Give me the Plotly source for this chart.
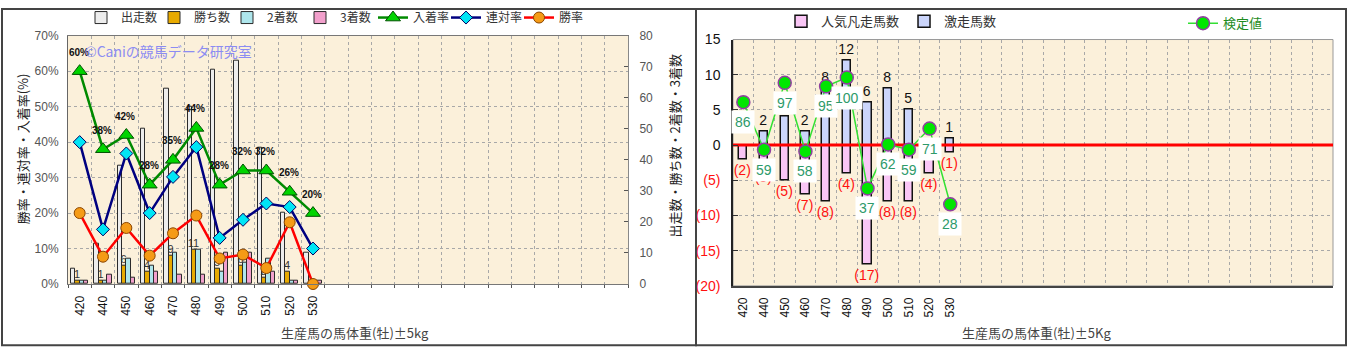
import plotly.graph_objects as go

# ---------------- data ----------------
weights = ["420", "440", "450", "460", "470", "480", "490", "500", "510", "520", "530"]
left_slots = 24     # category slots on the left chart (incl. empty ones)
right_slots = 29    # category slots on the right chart

runs = [5, 13, 38, 50, 63, 57, 69, 72, 44, 23, 10]          # 出走数
wins = [1, 1, 6, 4, 9, 11, 5, 6, 2, 4, 0]                   # 勝ち数
seconds = [1, 1, 8, 6, 10, 11, 4, 7, 8, 1, 1]               # 2着数
thirds = [1, 3, 2, 4, 3, 3, 10, 10, 4, 1, 1]                # 3着数
place_rate = [60, 38, 42, 28, 35, 44, 28, 32, 32, 26, 20]   # 入着率 %
quinella_rate = [40, 15.4, 36.8, 20, 30.2, 38.6, 13.0, 18.1, 22.7, 21.7, 10]  # 連対率 %
win_rate = [20, 7.7, 15.8, 8, 14.3, 19.3, 7.2, 8.3, 4.5, 17.4, 0]             # 勝率 %

surge = [0, 2, 4, 2, 8, 12, 6, 8, 5, 0, 1]                  # 激走馬数
flop = [-2, -3, -5, -7, -8, -4, -17, -8, -8, -4, -1]        # 人気凡走馬数
test_value = [86, 59, 97, 58, 95, 100, 37, 62, 59, 71, 28]  # 検定値

right_ticks = [15, 10, 5, 0, -5, -10, -15, -20]

# ---------------- layout helpers ----------------
W, H = 1348, 356
def px(x):
    return x / W
def py(y):
    return 1 - y / H

idx = list(range(len(weights)))
FONT = "Liberation Sans, Noto Sans CJK JP, sans-serif"
JP = "Noto Sans CJK JP, Liberation Sans, sans-serif"
GRID = "#A8A8A8"
BG = "#FBF0DA"

fig = go.Figure()

# ---- left chart bars (count axis y, drawn first) ----
bw = 0.185
bar_specs = [
    ("出走数", runs, "#EDEDED", -2 * bw),
    ("勝ち数", wins, "#E8AA00", -bw),
    ("2着数", seconds, "#AEE6EC", 0),
    ("3着数", thirds, "#F2A0CC", bw),
]
for name, vals, col, off in bar_specs:
    kw = {}
    if name == "勝ち数":
        kw = dict(text=[str(v) if v > 0 else "" for v in vals], textposition="outside",
                  textfont=dict(size=11, color="#333", family=FONT), constraintext="none",
                  cliponaxis=False, textangle=0)
    fig.add_trace(go.Bar(x=idx, y=vals, name=name, width=bw, offset=off,
                         marker=dict(color=col, line=dict(color="#2a2a2a", width=1)),
                         xaxis="x", yaxis="y", legend="legend", **kw))

# ---- left chart lines (pct axis y2) ----
fig.add_trace(go.Scatter(x=idx, y=place_rate, name="入着率", mode="lines+markers",
                         line=dict(color="#008A00", width=2.5),
                         marker=dict(symbol="triangle-up", size=13, color="#00D400",
                                     line=dict(color="#005000", width=1)),
                         xaxis="x", yaxis="y2", legend="legend", cliponaxis=False))
fig.add_trace(go.Scatter(x=idx, y=quinella_rate, name="連対率", mode="lines+markers",
                         line=dict(color="#000080", width=2.5),
                         marker=dict(symbol="diamond", size=10, color="#00E5F5",
                                     line=dict(color="#000060", width=1)),
                         xaxis="x", yaxis="y2", legend="legend", cliponaxis=False))
fig.add_trace(go.Scatter(x=idx, y=win_rate, name="勝率", mode="lines+markers",
                         line=dict(color="#FF0000", width=2.5),
                         marker=dict(symbol="circle", size=11, color="#F59B16",
                                     line=dict(color="#8B4500", width=1)),
                         xaxis="x", yaxis="y2", legend="legend", cliponaxis=False))

# ---- right chart bars (y3) ----
fig.add_trace(go.Bar(x=idx, y=flop, name="人気凡走馬数", width=0.4, offset=-0.2,
                     marker=dict(color="#F9C6F5", line=dict(color="#111", width=1.5)),
                     text=[f"({-v})" for v in flop], textposition="outside",
                     textfont=dict(size=14, color="#FF1010", family=FONT), constraintext="none",
                     cliponaxis=False, textangle=0,
                     xaxis="x2", yaxis="y3", legend="legend2"))
fig.add_trace(go.Bar(x=idx, y=surge, name="激走馬数", width=0.4, offset=-0.2,
                     marker=dict(color="#CBD5FB", line=dict(color="#111", width=1.5)),
                     text=[str(v) if v > 0 else "" for v in surge], textposition="outside",
                     textfont=dict(size=14, color="#111", family=FONT), constraintext="none",
                     cliponaxis=False, textangle=0,
                     xaxis="x2", yaxis="y3", legend="legend2"))
# zero reference line (above bars, below the test-value line)
fig.add_trace(go.Scatter(x=[-0.5, right_slots - 0.5], y=[0, 0], mode="lines",
                         line=dict(color="#FF0000", width=3), showlegend=False,
                         hoverinfo="skip", xaxis="x2", yaxis="y3"))
# ---- test value line (hidden axis y4) ----
fig.add_trace(go.Scatter(x=idx, y=test_value, name="検定値", mode="lines+markers",
                         line=dict(color="#33E033", width=1.5),
                         marker=dict(symbol="circle", size=13, color="#00E600",
                                     line=dict(color="#9040A0", width=1.5)),
                         xaxis="x2", yaxis="y4", legend="legend3", cliponaxis=False))

annotations = []
# 入着率 labels
for i, v in zip(idx, place_rate):
    annotations.append(dict(x=i, y=v, xref="x", yref="y2", yshift=19, xshift=-1, text=f"{v}%",
                            showarrow=False, font=dict(size=10, color="#111", family=FONT, weight="bold")))
# 検定値 labels
for i, v in zip(idx, test_value):
    annotations.append(dict(x=i, y=v, xref="x2", yref="y4", yshift=-20, text=str(v),
                            showarrow=False, bgcolor="white", borderpad=3,
                            font=dict(size=14, color="#2E9A6A", family=FONT)))
# texts
annotations += [
    dict(x=px(83), y=py(45), xref="paper", yref="paper", xanchor="left", yanchor="middle",
         showarrow=False, text="©Caniの競馬データ研究室",
         font=dict(size=14, color="#8C8CF2", family=JP)),
    dict(x=px(22), y=py(148), xref="paper", yref="paper", xanchor="center", yanchor="middle",
         showarrow=False, textangle=-90,
         text="勝率・連対率・入着率(%)", font=dict(size=13, color="#222", family=JP)),
    dict(x=px(674), y=py(145), xref="paper", yref="paper", xanchor="center", yanchor="middle",
         showarrow=False, textangle=-90,
         text="出走数・勝ち数・2着数・3着数", font=dict(size=13, color="#222", family=JP)),
    dict(x=px(355), y=py(340), xref="paper", yref="paper", xanchor="center", yanchor="middle",
         showarrow=False, text="生産馬の馬体重(牡)±5kg", font=dict(size=13, color="#444", family=JP)),
    dict(x=px(1036), y=py(340), xref="paper", yref="paper", xanchor="center", yanchor="middle",
         showarrow=False, text="生産馬の馬体重(牡)±5Kg", font=dict(size=13, color="#444", family=JP)),
]

minor_grid = dict(tickmode="linear", tick0=-0.5, dtick=1, showgrid=True,
                  gridcolor=GRID, griddash="dot", gridwidth=1)

def rtick(v):
    if v < 0:
        return f'<span style="color:#FF1010">({-v})</span>'
    return str(v)

fig.update_layout(
    width=W, height=H, margin=dict(l=0, r=0, t=0, b=0),
    paper_bgcolor="white", plot_bgcolor=BG,
    font=dict(family=FONT, size=12, color="#333"),
    barmode="overlay", bargap=0,
    xaxis=dict(domain=[px(68), px(628)], anchor="y", range=[-0.5, left_slots - 0.5],
               tickmode="array", tickvals=idx, ticktext=weights, tickangle=-90,
               tickfont=dict(size=12, color="#111"), showgrid=False, zeroline=False,
               ticks="outside", ticklen=6, tickcolor="rgba(0,0,0,0)",
               minor=dict(minor_grid, ticks="outside", ticklen=3, tickcolor="#555"),
               showline=True, linecolor="#777", mirror=True),
    yaxis=dict(domain=[py(289), py(29)], anchor="x", side="right", range=[0, 80], dtick=10,
               showgrid=False, zeroline=False, ticks="inside", ticklen=4, tickcolor="#555",
               ticklabelstandoff=8, tickfont=dict(size=12, color="#555"),
               showline=True, linecolor="#888"),
    yaxis2=dict(overlaying="y", anchor="x", side="left", range=[0, 70], dtick=10,
                ticksuffix="%", showgrid=True, gridcolor=GRID, griddash="dot", zeroline=False,
                ticks="outside", ticklen=6, tickcolor="rgba(0,0,0,0)",
                tickfont=dict(size=12, color="#555"), showline=True, linecolor="#666"),
    xaxis2=dict(domain=[px(733), px(1333)], anchor="y3", range=[-0.5, right_slots - 0.5],
                tickmode="array", tickvals=idx, ticktext=weights, tickangle=-90,
                tickfont=dict(size=12, color="#111"), showgrid=False, zeroline=False,
                ticks="outside", ticklen=5, tickcolor="rgba(0,0,0,0)",
                minor=minor_grid, showline=True, linecolor="#444", linewidth=1.5),
    yaxis3=dict(domain=[py(291), py(33)], anchor="x2", range=[-20, 15],
                tickmode="array", tickvals=right_ticks, ticktext=[rtick(v) for v in right_ticks],
                showgrid=True, gridcolor=GRID, griddash="dot", zeroline=False,
                ticks="inside", ticklen=5, tickcolor="#333", ticklabelstandoff=8,
                tickfont=dict(size=14, color="#111"),
                showline=True, linecolor="#222", linewidth=1.5),
    yaxis4=dict(overlaying="y3", anchor="x2", range=[-18.4, 121.6], visible=False),
    legend=dict(orientation="h", x=px(81), y=py(10), xanchor="left", yanchor="middle",
                font=dict(size=12, color="#333", family=JP), bgcolor="rgba(0,0,0,0)",
                entrywidth=28, tracegroupgap=0),
    legend2=dict(orientation="h", x=px(781), y=py(14), xanchor="left", yanchor="middle",
                 font=dict(size=13, color="#333", family=JP), bgcolor="rgba(0,0,0,0)"),
    legend3=dict(orientation="h", x=px(1183), y=py(16), xanchor="left", yanchor="middle",
                 font=dict(size=13, color="#1E8C1E", family=JP), bgcolor="rgba(0,0,0,0)"),
    annotations=annotations,
    shapes=[
        dict(type="rect", xref="paper", yref="paper", x0=px(2), x1=px(696), y0=py(353), y1=py(1),
             line=dict(color="#444", width=2)),
        dict(type="rect", xref="paper", yref="paper", x0=px(696), x1=px(1346), y0=py(353), y1=py(1),
             line=dict(color="#444", width=2)),
        dict(type="rect", xref="x2 domain", yref="y3 domain", x0=0, x1=1, y0=0, y1=1,
             line=dict(color="#999", width=1), layer="below"),
    ],
    showlegend=True,
)

fig.write_html("out.html", config={"displayModeBar": False},
               post_script="document.body.style.margin='0px';document.body.style.overflow='hidden';")
